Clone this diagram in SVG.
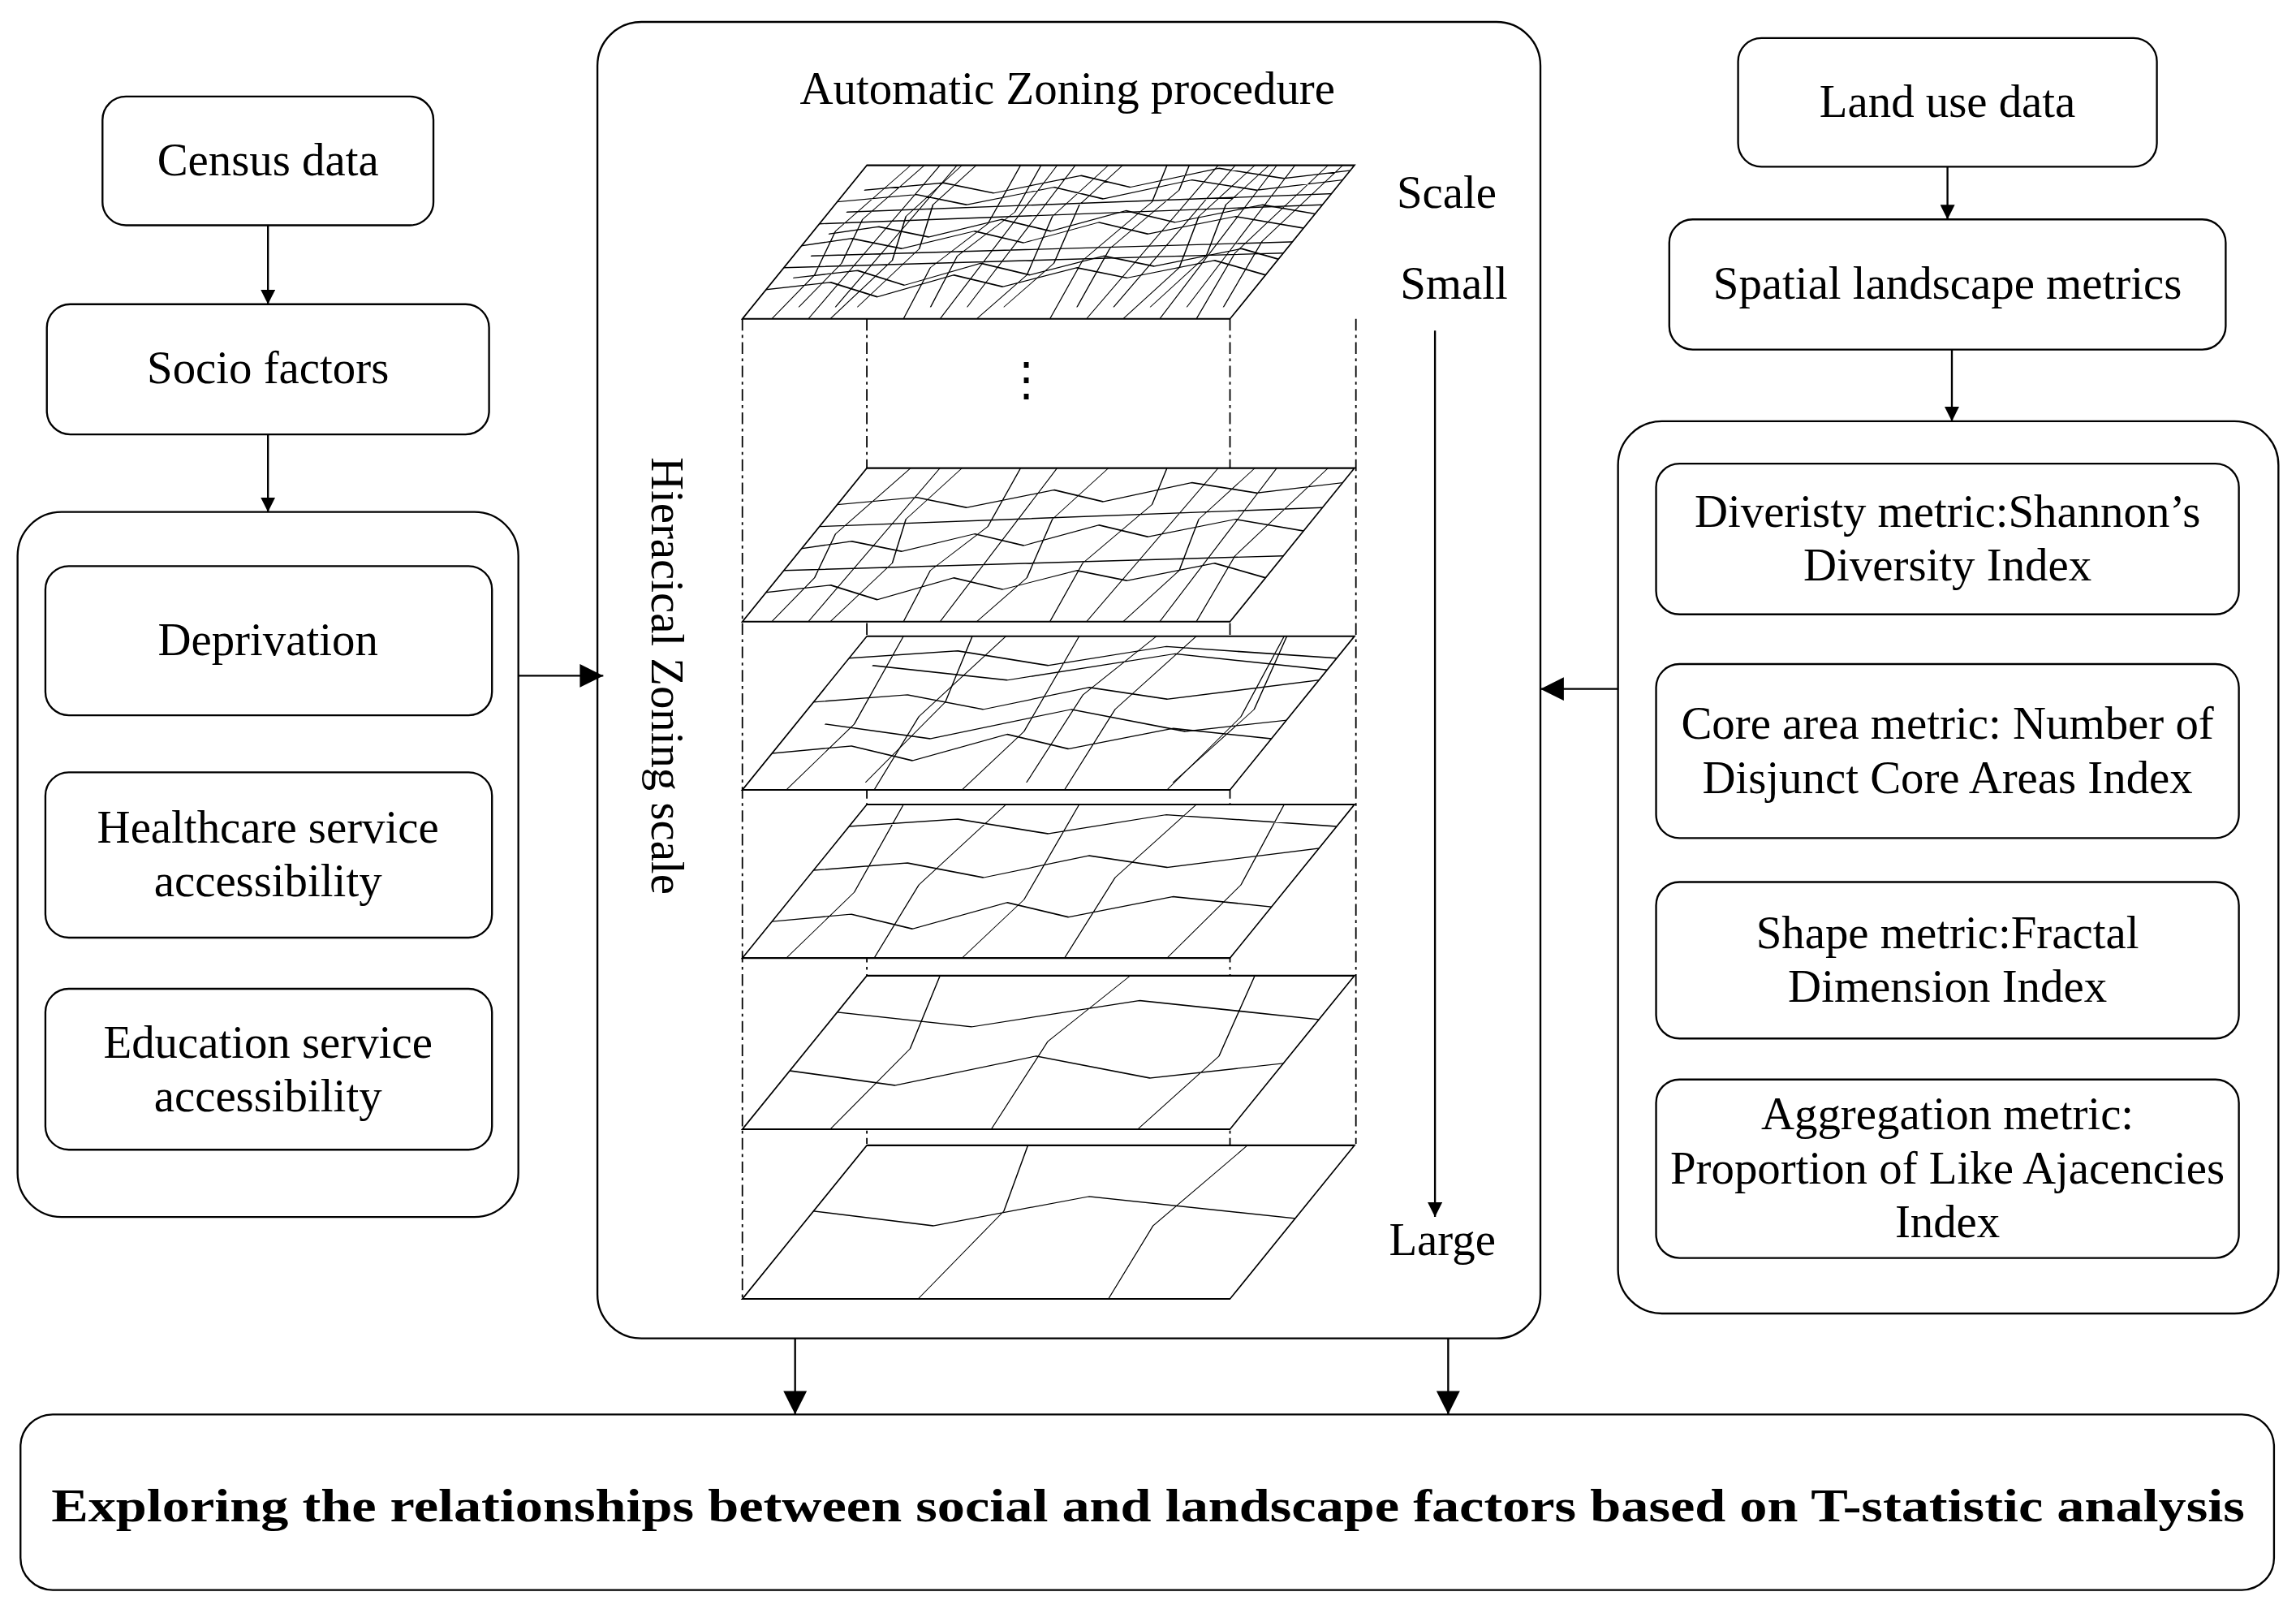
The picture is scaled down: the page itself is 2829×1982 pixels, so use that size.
<svg xmlns="http://www.w3.org/2000/svg" width="2829" height="1982" viewBox="0 0 2829 1982">
<style>
.b{fill:#fff;stroke:#000;stroke-width:1.3}
.t{font-family:"Liberation Serif",serif;font-size:31.5px;text-anchor:middle;fill:#000}
.c{stroke:#000;stroke-width:1.3;fill:none}
.d{stroke:#000;stroke-width:1;fill:none;stroke-dasharray:8 3 2 3}
.m{stroke:#000;stroke-width:0.8;fill:none}
.L{fill:#fff;stroke:#000;stroke-width:1.2}
</style>
<defs>
<marker id="a" viewBox="0 0 10 10" refX="10" refY="5" markerWidth="10" markerHeight="10" markerUnits="userSpaceOnUse" orient="auto"><path d="M0,0L10,5L0,10z" fill="#000"/></marker>
<marker id="a2" viewBox="0 0 10 10" refX="10" refY="5" markerWidth="22" markerHeight="16" markerUnits="userSpaceOnUse" orient="auto"><path d="M0,0L10,5L0,10z" fill="#000"/></marker>
<clipPath id="cl"><rect x="0" y="0" width="333" height="105"/></clipPath>
<g id="p1" class="m"><path d="M0,20L40,25L80,15L120,30L160,22L200,35L240,28L290,40L333,30M0,50L30,55L70,48L110,60L150,52L190,66L230,58L280,70L333,62M0,80L50,85L90,78L140,90L180,82L230,95L280,88L333,95M20,0L25,30L15,60L30,105M60,0L70,40L55,70L65,105M110,0L100,35L115,65L105,105M160,0L170,30L155,70L165,105M210,0L200,40L215,80L205,105M260,0L270,35L255,70L265,105M310,0L300,45L315,105M0,35L333,45M0,65L333,78M45,0L50,105M135,0L130,105M235,0L240,105M285,0L280,105"/></g>
<g id="p2" class="m"><path d="M0,25L50,30L100,20L150,38L200,28L260,42L333,35M0,60L60,65L120,55L180,70L240,62L333,75M0,90L70,95L140,85L210,98L333,90M30,0L40,45L25,105M90,0L80,50L95,105M150,0L160,40L145,105M220,0L210,55L225,105M290,0L300,50L285,105"/></g>
<g id="p3" class="m"><path d="M0,40L80,30L160,50L250,35L333,45M0,80L100,70L200,88L333,75M60,0L70,55L50,105M170,0L160,60L180,105M270,0L285,50L265,105"/></g>
<g id="p4" class="m"><path d="M0,60L90,50L180,70L333,55M120,0L130,60L110,105M250,0L240,50L260,105"/></g>
</defs>
<g transform="scale(1.8042,1.8018)">
<g id="census"><rect class="b" x="70" y="66" width="226" height="88" rx="16"/><text class="t" x="183" y="120">Census data</text></g>
<g id="socio"><rect class="b" x="32" y="208" width="302" height="89" rx="16"/><text class="t" x="183" y="262">Socio factors</text></g>
<g id="leftbox"><rect class="b" x="12" y="350" width="342" height="482" rx="30"/></g>
<g id="deprivation"><rect class="b" x="31" y="387" width="305" height="102" rx="16"/><text class="t" x="183" y="448">Deprivation</text></g>
<g id="health"><rect class="b" x="31" y="528" width="305" height="113" rx="16"/><text class="t" x="183" y="576">Healthcare service</text><text class="t" x="183" y="613">accessibility</text></g>
<g id="edu"><rect class="b" x="31" y="676" width="305" height="110" rx="16"/><text class="t" x="183" y="723">Education service</text><text class="t" x="183" y="760">accessibility</text></g>

<g id="middle"><rect class="b" x="408" y="15" width="644" height="900" rx="30"/>
<text class="t" x="729" y="71">Automatic Zoning procedure</text>
<text class="t" transform="translate(445,462) rotate(90)">Hieracical Zoning scale</text>
<text class="t" x="988" y="142">Scale</text><text class="t" x="993" y="204">Small</text><text class="t" x="985" y="858">Large</text>
<line class="c" x1="980" y1="226" x2="980" y2="832" marker-end="url(#a)"/>
<path class="d" d="M507,218V888M592,218V782M840,218V888M926,218V782"/>
<line x1="592" y1="320" x2="926" y2="320" stroke="#000" stroke-width="0.5"/>
<text class="t" x="701" y="270">⋮</text>
<g transform="matrix(1,0,0.8095,-1,507,218)"><rect class="L" width="333" height="105"/><g clip-path="url(#cl)"><use href="#p1"/><use href="#p1" transform="translate(12,8)"/></g></g>
<g transform="matrix(1,0,0.8095,-1,507,425)"><rect class="L" width="333" height="105"/><g clip-path="url(#cl)"><use href="#p1"/></g></g>
<g transform="matrix(1,0,0.8095,-1,507,540)"><rect class="L" width="333" height="105"/><g clip-path="url(#cl)"><use href="#p2"/><use href="#p3" transform="translate(20,5)"/></g></g>
<g transform="matrix(1,0,0.8095,-1,507,655)"><rect class="L" width="333" height="105"/><g clip-path="url(#cl)"><use href="#p2"/></g></g>
<g transform="matrix(1,0,0.8095,-1,507,772)"><rect class="L" width="333" height="105"/><g clip-path="url(#cl)"><use href="#p3"/></g></g>
<g transform="matrix(1,0,0.8095,-1,507,888)"><rect class="L" width="333" height="105"/><g clip-path="url(#cl)"><use href="#p4"/></g></g>
</g>

<g id="landuse"><rect class="b" x="1187" y="26" width="286" height="88" rx="16"/><text class="t" x="1330" y="80">Land use data</text></g>
<g id="spatial"><rect class="b" x="1140" y="150" width="380" height="89" rx="16"/><text class="t" x="1330" y="204">Spatial landscape metrics</text></g>
<g id="rightbox"><rect class="b" x="1105" y="288" width="451" height="610" rx="30"/></g>
<g id="m1"><rect class="b" x="1131" y="317" width="398" height="103" rx="16"/><text class="t" x="1330" y="360">Diveristy metric:Shannon’s</text><text class="t" x="1330" y="397">Diversity Index</text></g>
<g id="m2"><rect class="b" x="1131" y="454" width="398" height="119" rx="16"/><text class="t" x="1330" y="505">Core area metric: Number of</text><text class="t" x="1330" y="542">Disjunct Core Areas Index</text></g>
<g id="m3"><rect class="b" x="1131" y="603" width="398" height="107" rx="16"/><text class="t" x="1330" y="648">Shape metric:Fractal</text><text class="t" x="1330" y="685">Dimension Index</text></g>
<g id="m4"><rect class="b" x="1131" y="738" width="398" height="122" rx="16"/><text class="t" x="1330" y="772">Aggregation metric:</text><text class="t" x="1330" y="809">Proportion of Like Ajacencies</text><text class="t" x="1330" y="846">Index</text></g>

<g id="bottom"><rect class="b" x="14" y="967" width="1539" height="120" rx="22"/><text class="t" x="784" y="1040" font-weight="bold" font-size="46" textLength="1498" lengthAdjust="spacingAndGlyphs">Exploring the relationships between social and landscape factors based on T-statistic analysis</text></g>

<g id="connectors">
<line class="c" x1="183" y1="154" x2="183" y2="208" marker-end="url(#a)"/>
<line class="c" x1="183" y1="297" x2="183" y2="350" marker-end="url(#a)"/>
<line class="c" x1="354" y1="462" x2="412" y2="462" marker-end="url(#a2)"/>
<line class="c" x1="1330" y1="114" x2="1330" y2="150" marker-end="url(#a)"/>
<line class="c" x1="1333" y1="239" x2="1333" y2="288" marker-end="url(#a)"/>
<line class="c" x1="1105" y1="471" x2="1052" y2="471" marker-end="url(#a2)"/>
<line class="c" x1="543" y1="915" x2="543" y2="967" marker-end="url(#a2)"/>
<line class="c" x1="989" y1="915" x2="989" y2="967" marker-end="url(#a2)"/>
</g>
</g>
</svg>
